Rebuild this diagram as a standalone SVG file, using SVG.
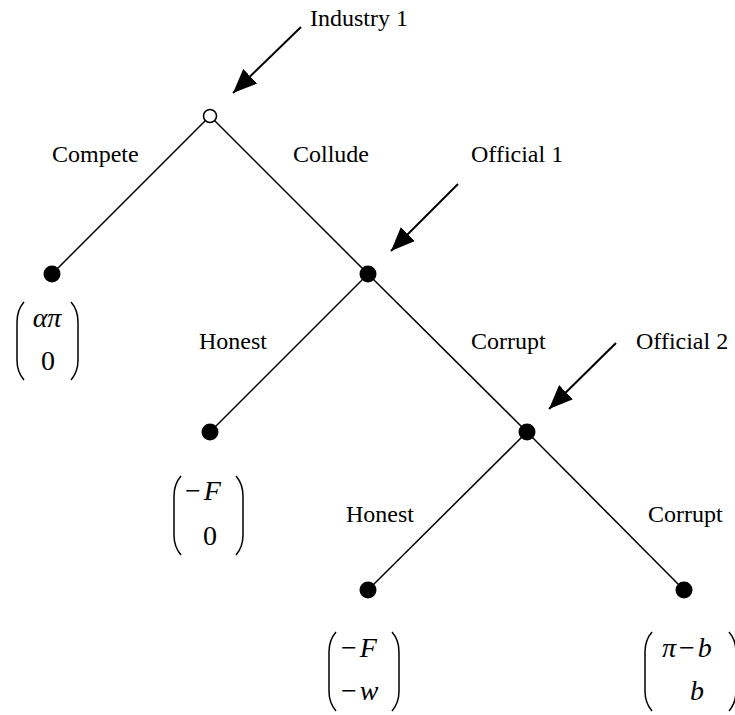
<svg xmlns="http://www.w3.org/2000/svg" width="735" height="715" viewBox="0 0 735 715">
<defs>
<style>
.lbl{font-family:"Liberation Serif","Times New Roman",serif;font-size:24px;fill:#000}
.m{font-family:"Liberation Serif","Times New Roman",serif;font-size:28px;fill:#000}
.i{font-style:italic}
.edge{stroke:#000;stroke-width:1.5;fill:none}
.ptr{stroke:#000;stroke-width:2;fill:none}
.par{stroke:#000;stroke-width:1.5;fill:none}
.dot{fill:#000}
</style>
<marker id="ah" viewBox="0 0 24 20" refX="24" refY="10" markerWidth="24" markerHeight="20" markerUnits="userSpaceOnUse" orient="auto">
<path d="M0,0 L24,10 L0,20 Z" fill="#000"/>
</marker>
</defs>
<g id="connectors">
<line class="edge" x1="210" y1="116" x2="52" y2="274"/>
<line class="edge" x1="210" y1="116" x2="368" y2="274"/>
<line class="edge" x1="368" y1="274" x2="210" y2="432"/>
<line class="edge" x1="368" y1="274" x2="527" y2="432"/>
<line class="edge" x1="527" y1="432" x2="368" y2="590"/>
<line class="edge" x1="527" y1="432" x2="684" y2="590"/>
<line class="ptr" x1="301" y1="27" x2="233" y2="93" marker-end="url(#ah)"/>
<line class="ptr" x1="458" y1="184" x2="391" y2="251" marker-end="url(#ah)"/>
<line class="ptr" x1="616" y1="343" x2="549" y2="409" marker-end="url(#ah)"/>
</g>
<g id="industry1">
<circle cx="210" cy="116" r="6.5" fill="#fff" stroke="#000" stroke-width="1.5"/>
<text class="lbl" x="310" y="26">Industry 1</text>
</g>
<g id="official1">
<circle class="dot" cx="368" cy="274" r="8.5"/>
<text class="lbl" x="471" y="162">Official 1</text>
</g>
<g id="official2">
<circle class="dot" cx="527" cy="432" r="8.5"/>
<text class="lbl" x="636" y="349">Official 2</text>
</g>
<g id="labels">
<text class="lbl" x="52" y="162">Compete</text>
<text class="lbl" x="293" y="162">Collude</text>
<text class="lbl" x="199" y="349">Honest</text>
<text class="lbl" x="471" y="349">Corrupt</text>
<text class="lbl" x="346" y="522">Honest</text>
<text class="lbl" x="648" y="522">Corrupt</text>
</g>
<g id="leaf-compete">
<circle class="dot" cx="52" cy="274" r="8.5"/>
<path class="par" d="M24,302 Q17,310 17,322 L17,360 Q17,372 24,380"/>
<path class="par" d="M71,302 Q78,310 78,322 L78,360 Q78,372 71,380"/>
<text class="m i" x="47" y="327" text-anchor="middle">απ</text>
<text class="m" x="48" y="370" text-anchor="middle">0</text>
</g>
<g id="leaf-honest1">
<circle class="dot" cx="210" cy="432" r="8.5"/>
<path class="par" d="M181,476 Q174,484 174,496 L174,535 Q174,547 181,555"/>
<path class="par" d="M236,476 Q243,484 243,496 L243,535 Q243,547 236,555"/>
<text class="m" x="185" y="500">−<tspan class="i" dx="3">F</tspan></text>
<text class="m" x="210" y="545" text-anchor="middle">0</text>
</g>
<g id="leaf-honest2">
<circle class="dot" cx="368" cy="590" r="8.5"/>
<path class="par" d="M336,632 Q329,640 329,652 L329,691 Q329,703 336,711"/>
<path class="par" d="M392,632 Q399,640 399,652 L399,691 Q399,703 392,711"/>
<text class="m" x="341" y="657">−<tspan class="i" dx="3">F</tspan></text>
<text class="m" x="341" y="700">−<tspan class="i" dx="3">w</tspan></text>
</g>
<g id="leaf-corrupt2">
<circle class="dot" cx="684" cy="590" r="8.5"/>
<path class="par" d="M652,632 Q645,640 645,652 L645,691 Q645,703 652,711"/>
<path class="par" d="M729,632 Q736,640 736,652 L736,691 Q736,703 729,711"/>
<text class="m" x="662" y="657"><tspan class="i">π</tspan><tspan dx="3">−</tspan><tspan class="i" dx="3">b</tspan></text>
<text class="m i" x="697" y="700" text-anchor="middle">b</text>
</g>
</svg>
